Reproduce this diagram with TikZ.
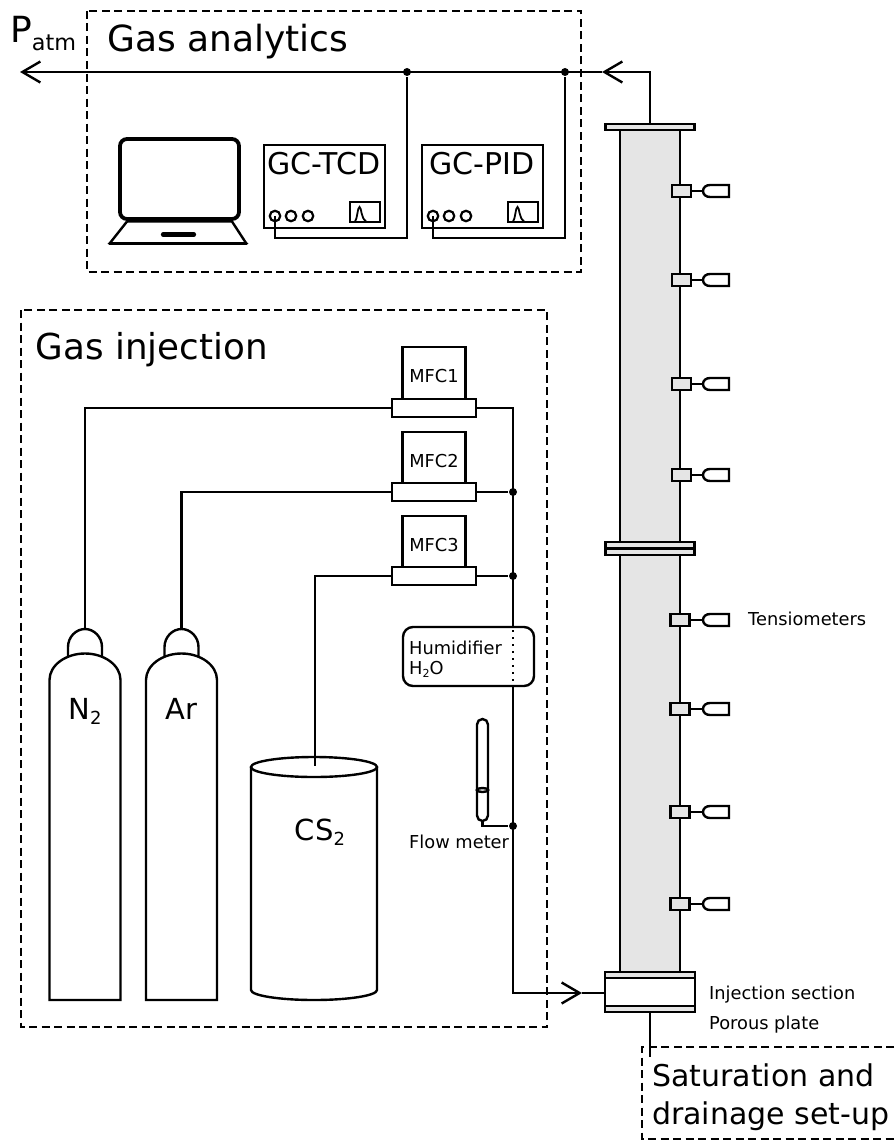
\documentclass[tikz,border=0pt]{standalone}
\usepackage{fontspec}
\setmainfont{DejaVu Sans}
\usetikzlibrary{arrows.meta,shapes.geometric}
\newcommand{\fsz}[1]{\fontsize{#1}{#1}\selectfont}
\newcommand{\dsub}[2][0.62]{\raisebox{-0.2em}{\scalebox{#1}{#2}}}
\definecolor{colgray}{HTML}{E5E5E5}
\tikzset{
  every path/.style={line width=2.4pt},
  txt/.style={inner sep=0pt,anchor=base west},
  ctr/.style={inner sep=0pt,anchor=base},
  boxn/.style={draw,inner sep=0pt,fill=white,line width=2.4pt},
  graybox/.style={draw,inner sep=0pt,fill=colgray,line width=2.4pt},
  region/.style={line width=2.2pt,dash pattern=on 8pt off 4.5pt},
  dot/.style={circle,fill=black,inner sep=0pt,minimum size=8pt},
  port/.style={circle,draw,fill=white,inner sep=0pt,minimum size=10.5pt,line width=2.2pt},
  barb/.style={-{Straight Barb[length=18pt,width=21pt,line width=2.4pt]}},
  pipe/.style={line width=2.4pt,line join=miter}
}
\begin{document}
\begin{tikzpicture}[x=1pt,y=-1pt]
\useasboundingbox (0,0) rectangle (894,1140);
% regions
\draw[region] (87,11) rectangle (581,272);
\draw[region] (21,310) rectangle (547,1027);
\draw[region] (894,1047) -- (642,1047) -- (642,1139) -- (894,1139);
\node[txt] (tanalytics) at (106,52) {\fsz{36}Gas analytics};
\node[txt] (tinjection) at (34.5,359) {\fsz{35.7}Gas injection};
\node[txt] (tpatm) at (9,43) {\fsz{36}P\dsub[0.62]{atm}};
\node[txt,align=left] (tsat) at (651,1086) {\fsz{30}Saturation and};
\node[txt,align=left] (tdrain) at (651,1124) {\fsz{30}drainage set-up};

% column
\node[graybox,minimum width=60pt,minimum height=842pt] (column) at (650,551) {};
\node[graybox,minimum width=89pt,minimum height=6pt] (flangetop) at (650,127) {};
\node[graybox,minimum width=89pt,minimum height=6.5pt] (flangemida) at (650,545) {};
\node[graybox,minimum width=89pt,minimum height=6.5pt] (flangemidb) at (650,552) {};
\node[graybox,minimum width=90pt,minimum height=6pt] (flangebota) at (650,975) {};
\node[boxn,minimum width=90pt,minimum height=28pt] (injsec) at (650,992) {};
\node[graybox,minimum width=90pt,minimum height=6pt] (porous) at (650,1009) {};
\node[txt] (tinj) at (708,999) {\fsz{17.8}Injection section};
\node[txt] (tpor) at (708,1029) {\fsz{17.8}Porous plate};
\node[txt] (tten) at (747,625) {\fsz{17.8}Tensiometers};

% tensiometers
\foreach \i/\xx/\yy in {1/681.5/191,2/681.5/280,3/681.5/384,4/681.5/475,5/680/620,6/680/709,7/680/812,8/680/904}{
  \node[graybox,minimum width=19pt,minimum height=12pt] (sens\i) at (\xx,\yy) {};
  \coordinate (caps\i) at (703,\yy);
  \draw (sens\i) -- (caps\i);
  \draw (caps\i) .. controls (703,\yy-3.5) and (706,\yy-6) .. (710,\yy-6) -- (729,\yy-6) -- (729,\yy+6) -- (710,\yy+6) .. controls (706,\yy+6) and (703,\yy+3.5) .. (caps\i) -- cycle;
}

% exhaust line
\coordinate (jout) at (602,72);
\coordinate (patm) at (20,72);
\node[dot] (j1) at (407,72) {};
\node[dot] (j2) at (565,72) {};
\draw[pipe,barb] (flangetop.north) |- (jout);
\draw[pipe,barb] (jout) -- (patm);

% laptop
\draw[line width=3.8pt,rounded corners=7pt] (120,139) rectangle (239,219);
\draw[line width=2.4pt,line join=round] (127,221.5) -- (232,221.5) -- (246,243);
\draw[line width=2.4pt] (127,221.5) -- (110,243);
\draw[line width=3.8pt,line cap=round] (109.5,243.5) -- (246.5,243.5);
\draw[line width=4.2pt,line cap=round] (163,234.5) -- (194,234.5);

% GC units
\foreach \n/\lab/\x/\jn in {tcd/GC-TCD/263/j1,pid/GC-PID/421/j2}{
  \node[draw,inner sep=0pt,minimum width=121pt,minimum height=83pt,anchor=north west,line width=2.4pt] (gc\n) at (\x,144) {};
  \node[ctr] (t\n) at (\x+61,174) {\fsz{30}\lab};
  \node[port] (p\n a) at (\x+12,216) {};
  \node[port] (p\n b) at (\x+28,216) {};
  \node[port] (p\n c) at (\x+45,216) {};
  \node[draw,inner sep=0pt,minimum width=30pt,minimum height=20pt,anchor=north west,line width=2.4pt] (scr\n) at (\x+86,201) {};
  \draw[line width=1.8pt] (\x+92,221) .. controls (\x+94.5,219) and (\x+94.5,207) .. (\x+96.5,207) .. controls (\x+98.5,207) and (\x+98,219) .. (\x+103,221);
  \draw[pipe] (p\n a.center) -- (\x+12,238) -| (\jn);
}

% MFC
\foreach \i/\yy/\ly in {1/346/408,2/431/492,3/515/576}{
  \node[draw,inner sep=0pt,minimum width=63pt,minimum height=53pt,anchor=north,line width=2.4pt] (mfctop\i) at (434,\yy) {};
  \node[ctr] (tmfc\i) at (434,\yy+36) {\fsz{17.8}MFC\i};
  \node[draw,inner sep=0pt,fill=white,minimum width=84pt,minimum height=17.5pt,line width=2.4pt] (mfc\i) at (434,\ly) {};
}
\coordinate (bus1) at (513,408);
\node[dot] (bus2) at (513,492) {};
\node[dot] (bus3) at (513,576) {};
\node[dot] (bus4) at (513,826) {};
\coordinate (humtop) at (513,627);
\coordinate (humbot) at (513,686);
\coordinate (inj) at (582,993);
\draw[pipe] (mfc1.east) -- (bus1) -- (humtop);
\draw (mfc2.east) -- (bus2);
\draw (mfc3.east) -- (bus3);

% humidifier
\node[draw,inner sep=0pt,minimum width=131pt,minimum height=59pt,rounded corners=10pt,line width=2.4pt] (hum) at (468.5,656.5) {};
\node[txt] (thum) at (408,654) {\fsz{17.8}Humidifier};
\node[txt] (th2o) at (408,674) {\fsz{17.8}H\dsub[0.62]{2}O};
\draw[line width=2.4pt,dash pattern=on 2.4pt off 4.6pt] (humtop) ++(0,3) -- (humbot);
\draw[pipe,barb] (humbot) |- (inj);
\draw (inj) -- (injsec.west |- inj);

% flow meter
\draw[rounded corners=5.5pt] (477,719) rectangle (488,821);
\node[draw,ellipse,inner sep=0pt,minimum width=11pt,minimum height=4pt] (float) at (482.5,790) {};
\coordinate (fmout) at (482.5,821);
\draw (fmout) |- (bus4);
\node[txt] (tfm) at (408,848) {\fsz{17.8}Flow meter};

% bottles
\foreach \n/\lab/\x/\conn/\mfcy in {nit/N\dsub{2}/85/mfc1/408,arg/Ar/181.5/mfc2/492}{
  \draw (\x-35.5,1000) -- (\x-35.5,680) .. controls (\x-35.5,665) and (\x-19,653.5) .. (\x,653.5) .. controls (\x+19,653.5) and (\x+35.5,665) .. (\x+35.5,680) -- (\x+35.5,1000) -- cycle;
  \draw (\x-17,656) -- (\x-17,647) .. controls (\x-17,637) and (\x-9,629) .. (\x,629) .. controls (\x+9,629) and (\x+17,637) .. (\x+17,647) -- (\x+17,656);
  \coordinate (top\n) at (\x,629);
  \draw[pipe] (\conn.west) -- (\x,\mfcy) -- (top\n);
  \node[ctr] (t\n) at (\x,719) {\fsz{29}\lab};
}

% CS2 tank
\draw (251,767) -- (251,990) arc[start angle=180,end angle=0,x radius=63,y radius=10] -- (377,767);
\draw (314,767) ellipse[x radius=63,y radius=10];
\coordinate (tankin) at (315,766);
\draw[pipe] (mfc3.west) -| (tankin);
\node[ctr] (tcs) at (320,840) {\fsz{29}CS\dsub{2}};

% drainage
\coordinate (drainend) at (650,1057);
\draw (porous.south) -- (drainend);
\end{tikzpicture}
\end{document}
